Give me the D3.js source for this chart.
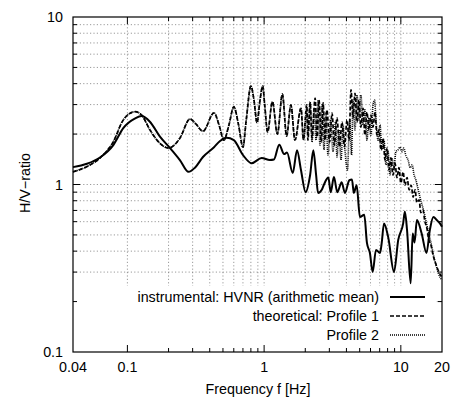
<!DOCTYPE html>
<html><head><meta charset="utf-8">
<script src="https://cdn.jsdelivr.net/npm/d3@7"></script>
<style>
body{margin:0;background:#fff;}
text{font-family:"Liberation Sans",Arial,Helvetica,sans-serif;fill:#000;}
</style></head>
<body><svg id="c" width="452" height="398"></svg>
<script>
// ---- data ----
const xTickLabels = [0.04, 0.1, 1, 10, 20];
const yTickLabels = [0.1, 1, 10];
const legendLabels = ["instrumental: HVNR (arithmetic mean)", "theoretical: Profile 1", "Profile 2"];

const instFreq = [0.04,0.0506,0.063,0.0789,0.0933,0.114,0.127,0.146,0.173,0.205,0.242,0.28,0.312,0.357,0.43,0.476,0.532,0.60,0.70,0.81,0.96,1.10,1.18,1.29,1.40,1.47,1.62,1.74,1.86,2.01,2.17,2.29,2.40,2.48,2.64,2.74,2.95,3.07,3.24,3.43,3.69,3.90,4.20,4.39,4.53,4.75,5.02,5.40,5.65,5.94,6.22,6.58,7.04,7.25,7.53,8.10,8.91,9.57,10.4,10.7,11.1,11.8,12.2,12.6,13.1,14.2,15.4,16.3,17.3,18.3,19.3,20];
const instVal  = [1.27,1.33,1.45,1.72,2.17,2.48,2.56,2.37,1.93,1.65,1.40,1.19,1.26,1.46,1.67,1.82,1.90,1.84,1.50,1.34,1.44,1.40,1.41,1.73,1.52,1.55,1.17,1.60,1.22,0.90,1.14,1.60,1.14,0.89,0.93,1.00,1.10,0.90,1.11,0.90,1.03,0.89,1.06,1.07,0.89,0.99,0.64,0.66,0.448,0.39,0.30,0.407,0.39,0.45,0.586,0.48,0.30,0.467,0.586,0.69,0.535,0.257,0.51,0.45,0.614,0.51,0.39,0.535,0.64,0.614,0.586,0.56];

const p1Freq = [0.04,0.0506,0.063,0.0789,0.0933,0.114,0.127,0.146,0.173,0.20,0.242,0.287,0.318,0.357,0.43,0.468,0.508,0.553,0.60,0.65,0.70,0.74,0.80,0.843,0.887,0.933,0.976,1.01,1.06,1.15,1.25,1.36,1.46,1.57,1.68,1.86,1.94,2.05,2.09,2.17,2.24,2.36,2.44,2.52,2.62,2.70,2.79,2.88,3.01,3.14,3.26,3.41,3.56,3.71,3.87,4.04,4.18,4.32,4.47,4.62,4.78,4.94,5.10,5.29,5.46,5.65,5.85,6.04,6.26,6.47,6.69,6.92,7.16,7.41,7.66,7.92,8.19,8.46,8.76,9.06,9.37,9.69,10.0,10.4,10.7,11.1,11.5,11.9,12.3,12.7,13.1,13.6,14.0,14.5,15.0,15.5,16.0,16.6,17.2,17.8,18.4,19.0,20];
const p1Val  = [1.19,1.28,1.44,1.80,2.43,2.72,2.60,2.12,1.76,1.65,1.89,2.46,2.29,2.08,2.68,2.27,1.84,2.27,2.91,2.27,1.67,2.43,3.87,3.19,2.34,3.19,3.87,2.98,2.06,3.12,2.0,3.46,1.95,2.985,1.84,2.85,1.86,2.985,1.84,3.07,1.89,3.28,1.92,3.19,1.79,3.07,1.84,2.79,1.79,2.67,1.72,2.5,1.68,2.36,1.68,2.43,1.84,3.67,2.5,3.5,2.36,3.19,2.2,2.85,1.97,2.7,2.12,2.6,2.2,2.7,1.97,2.12,1.61,1.89,1.40,1.65,1.22,1.44,1.14,1.34,1.10,1.26,1.02,1.19,0.99,1.10,0.93,0.99,0.84,0.93,0.78,0.81,0.68,0.705,0.60,0.55,0.467,0.436,0.38,0.345,0.32,0.30,0.28];

const p2Freq = [0.04,0.0506,0.063,0.0789,0.0933,0.114,0.127,0.146,0.173,0.20,0.242,0.287,0.318,0.357,0.43,0.468,0.508,0.553,0.60,0.65,0.70,0.74,0.80,0.843,0.887,0.933,0.976,1.01,1.06,1.15,1.25,1.36,1.46,1.57,1.68,1.86,1.94,2.05,2.09,2.17,2.24,2.32,2.40,2.48,2.56,2.65,2.74,2.83,2.93,3.06,3.19,3.33,3.41,3.53,3.65,3.78,3.90,4.07,4.22,4.36,4.47,4.62,4.78,4.94,5.10,5.29,5.46,5.65,5.85,6.04,6.26,6.42,6.58,6.81,7.04,7.28,7.53,7.78,8.05,8.32,8.60,8.91,9.20,9.53,9.86,10.2,10.5,10.9,11.3,11.7,12.1,12.5,12.9,13.4,13.8,14.3,14.8,15.3,15.8,16.3,16.9,17.5,18.1,18.7,19.3,20];
const p2Val  = [1.19,1.28,1.44,1.80,2.43,2.72,2.60,2.12,1.76,1.65,1.89,2.46,2.29,2.08,2.68,2.27,1.84,2.27,2.91,2.27,1.67,2.43,3.87,3.19,2.34,3.19,3.87,2.98,2.06,3.12,2.0,3.46,1.95,2.985,1.84,2.85,1.84,2.79,1.97,3.12,1.79,2.85,1.84,3.19,1.72,2.985,1.61,2.7,1.50,2.43,1.57,2.36,1.46,2.12,1.40,2.27,1.61,1.22,2.43,1.50,3.19,2.12,3.42,2.43,3.42,2.27,2.79,1.84,2.5,1.97,2.985,3.19,2.43,1.84,2.27,1.61,1.84,1.31,1.61,1.14,1.44,1.26,1.57,1.61,1.67,1.57,1.65,1.48,1.40,1.26,1.31,1.14,1.06,0.93,0.84,0.755,0.68,0.60,0.535,0.48,0.42,0.363,0.331,0.30,0.28,0.27];

// ---- chart ----
const svg = d3.select("#c");
const L = 73, R = 442, T = 17, B = 352;
const FS = 14.3;
const x = d3.scaleLog().domain([0.04, 20]).range([L, R]);
const y = d3.scaleLog().domain([0.1, 10]).range([B, T]);

const xMinor = [0.2,0.3,0.4,0.5,0.6,0.7,0.8,0.9,2,3,4,5,6,7,8,9];
const xMajor = [0.1,1,10];
const yMinor = [0.2,0.3,0.4,0.5,0.6,0.7,0.8,0.9,2,3,4,5,6,7,8,9];
const yMajor = [1];

// grid
const grid = svg.append("g").attr("stroke","#808080").attr("stroke-width",0.8).attr("stroke-dasharray","1.2,2.2");
xMajor.concat(xMinor).forEach(v=>{
  grid.append("line").attr("x1",x(v)).attr("x2",x(v)).attr("y1",T).attr("y2",B);
});
yMajor.concat(yMinor).forEach(v=>{
  grid.append("line").attr("x1",L).attr("x2",R).attr("y1",y(v)).attr("y2",y(v));
});

// legend background (opaque key)
svg.append("rect").attr("x",L+1).attr("y",286).attr("width",434-L).attr("height",B-287).attr("fill","#fff");

// curves
const line = (fs, vs) => d3.line().x((d,i)=>x(fs[i])).y((d,i)=>y(vs[i])).curve(d3.curveMonotoneX)(fs);
svg.append("path").attr("d", line(p2Freq,p2Val)).attr("fill","none").attr("stroke","#000").attr("stroke-width",1.6).attr("stroke-dasharray","1,1");
svg.append("path").attr("d", line(p1Freq,p1Val)).attr("fill","none").attr("stroke","#000").attr("stroke-width",1.7).attr("stroke-dasharray","4,2");
svg.append("path").attr("d", line(instFreq,instVal)).attr("fill","none").attr("stroke","#000").attr("stroke-width",2);

// ticks
const tk = svg.append("g").attr("stroke","#000").attr("stroke-width",1);
xMajor.forEach(v=>{
  tk.append("line").attr("x1",x(v)).attr("x2",x(v)).attr("y1",B).attr("y2",B-7);
  tk.append("line").attr("x1",x(v)).attr("x2",x(v)).attr("y1",T).attr("y2",T+7);
});
xMinor.forEach(v=>{
  tk.append("line").attr("x1",x(v)).attr("x2",x(v)).attr("y1",B).attr("y2",B-4);
  tk.append("line").attr("x1",x(v)).attr("x2",x(v)).attr("y1",T).attr("y2",T+4);
});
yMajor.forEach(v=>{
  tk.append("line").attr("x1",L).attr("x2",L+7).attr("y1",y(v)).attr("y2",y(v));
  tk.append("line").attr("x1",R).attr("x2",R-7).attr("y1",y(v)).attr("y2",y(v));
});
yMinor.forEach(v=>{
  tk.append("line").attr("x1",L).attr("x2",L+4).attr("y1",y(v)).attr("y2",y(v));
  tk.append("line").attr("x1",R).attr("x2",R-4).attr("y1",y(v)).attr("y2",y(v));
});

// frame
svg.append("rect").attr("x",L).attr("y",T).attr("width",R-L).attr("height",B-T).attr("fill","none").attr("stroke","#000").attr("stroke-width",1.2);

// tick labels
svg.append("g").selectAll("text").data(xTickLabels).join("text")
  .attr("x",d=>x(d)).attr("y",372).attr("text-anchor","middle").attr("font-size",FS).text(d=>String(d));
svg.append("g").selectAll("text").data(yTickLabels).join("text")
  .attr("x",L-10).attr("y",d=>y(d)+5).attr("text-anchor","end").attr("font-size",FS).text(d=>String(d));

// axis titles
svg.append("text").attr("x",258).attr("y",394).attr("text-anchor","middle").attr("font-size",FS).text("Frequency f [Hz]");
svg.append("text").attr("transform","translate(30,183) rotate(-90)").attr("text-anchor","middle").attr("font-size",FS).text("H/V\u2212ratio");

// legend
const rows = [297, 316, 335];
const styles = [{w:2,d:null},{w:1.7,d:"4,2"},{w:1.6,d:"1,1"}];
legendLabels.forEach((t,i)=>{
  svg.append("text").attr("x",379).attr("y",rows[i]+5).attr("text-anchor","end").attr("font-size",FS).text(t);
  const l = svg.append("line").attr("x1",390).attr("x2",425).attr("y1",rows[i]).attr("y2",rows[i]).attr("stroke","#000").attr("stroke-width",styles[i].w);
  if(styles[i].d) l.attr("stroke-dasharray",styles[i].d);
});
</script></body></html>
